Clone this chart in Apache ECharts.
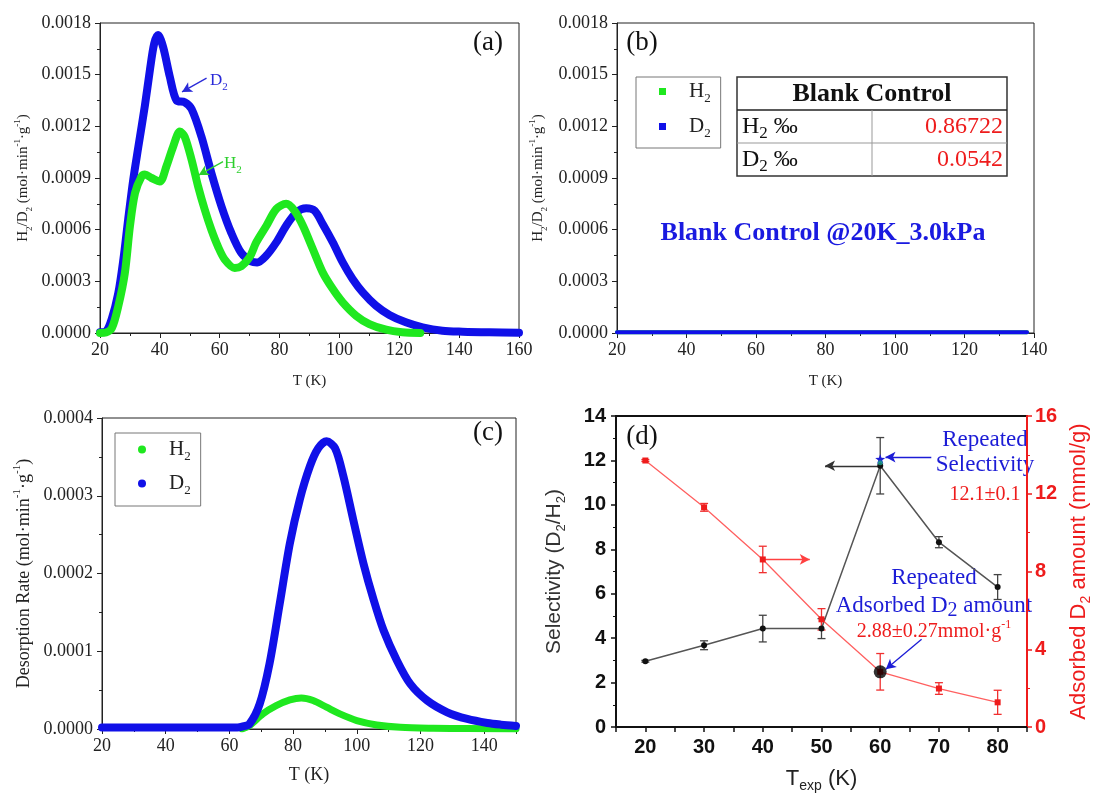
<!DOCTYPE html>
<html>
<head>
<meta charset="utf-8">
<title>H2 / D2 desorption</title>
<script src="https://cdn.jsdelivr.net/npm/echarts@6/dist/echarts.min.js"></script>
<style>
  html, body { margin: 0; padding: 0; background: #fff; }
  #chart { width: 1094px; height: 794px; }
</style>
</head>
<body>
<div id="chart"></div>
<script>
var SERIF = "'Liberation Serif', 'Times New Roman', serif";
var SANS = "'Liberation Sans', Arial, sans-serif";
var GREEN = '#1fe81f', BLUE = '#1010e8', RED = '#ee1c1c', NOTE_BLUE = '#1c1cd6';

// (a) desorption after co-adsorption
var tA_H2 = [20, 22, 24, 26.1, 28.3, 30, 31.7, 33.9, 35, 37.2, 40, 42.2, 44.4, 46.7, 48.3, 50.6, 52.8, 55, 57.2, 59.4, 61.7, 65, 67.2, 70, 72.2, 75.6, 78.9, 82.2, 85, 87.8, 91.1, 94.4, 97.8, 101.1, 105.6, 110, 115.6, 121, 127];
var rA_H2 = [0, 0.000003, 0.00003, 0.000155, 0.000348, 0.00062, 0.000813, 0.00091, 0.00092, 0.0009, 0.00088, 0.000968, 0.00108, 0.00117, 0.00114, 0.001006, 0.00085, 0.000716, 0.0006, 0.000503, 0.000426, 0.000377, 0.000387, 0.00044, 0.000526, 0.000623, 0.00072, 0.00075, 0.00071, 0.000623, 0.000488, 0.000352, 0.000255, 0.000178, 0.0001, 0.000052, 0.000019, 0.000004, 0];
var tA_D2 = [20, 22, 23.9, 26.1, 27.8, 29.4, 31.1, 32.8, 35, 36.7, 38.1, 39.4, 41.1, 43.3, 45.6, 48.3, 50.6, 53.9, 57.2, 60.6, 63.9, 67.2, 70.6, 72.5, 75.6, 78.9, 82.2, 85.6, 88.9, 91.7, 94.4, 97.8, 101.1, 104.4, 107.8, 112.2, 116.7, 122.2, 127.8, 134.4, 141.1, 150, 160];
var rA_D2 = [0.000005, 0.00001, 0.00008, 0.00023, 0.000426, 0.000658, 0.00089, 0.00108, 0.00132, 0.00153, 0.00168, 0.00173, 0.00166, 0.00149, 0.00135, 0.00134, 0.0013, 0.00114, 0.00093, 0.000735, 0.00058, 0.000465, 0.000415, 0.00041, 0.00045, 0.000526, 0.000623, 0.0007, 0.000724, 0.00071, 0.000633, 0.000526, 0.00041, 0.000314, 0.000236, 0.000159, 0.000105, 0.000062, 0.000033, 0.0000135, 0.0000077, 0.000004, 0.000002];

// (b) blank control
var tB = [20, 138];
var rB_H2 = [0.000005, 0.000005];
var rB_D2 = [0.000005, 0.000005];
var blankRows = ['H', 'D'];
var blankValues = ['0.86722', '0.0542'];

// (c) desorption rate
var tC_H2 = [64, 66.3, 70.5, 74.7, 79, 82.6, 86.3, 90.5, 94.7, 100, 106.3, 113.7, 124, 135, 150];
var rC_H2 = [0, 0.0000043, 0.0000194, 0.00003, 0.0000374, 0.00004, 0.0000366, 0.000028, 0.0000194, 0.0000108, 0.0000052, 0.0000022, 0.000001, 0.0000005, 0];
var tC_D2 = [20, 30, 40, 50, 56, 60, 62.5, 64, 66.3, 69.5, 72.6, 75.8, 79, 82.1, 85.3, 87.9, 90.5, 93.2, 95.8, 98.9, 102.1, 105.3, 108.4, 112.6, 116.8, 122.1, 128.4, 134.7, 141, 145.3, 150];
var rC_D2 = [0.000002, 0.000002, 0.000002, 0.000002, 0.000002, 0.000002, 0.000002, 0.000003, 0.0000065, 0.000032, 0.000084, 0.000161, 0.000239, 0.000295, 0.000338, 0.000361, 0.00037, 0.000361, 0.000325, 0.000269, 0.000213, 0.000166, 0.000127, 0.0000882, 0.000058, 0.0000366, 0.0000215, 0.0000129, 0.0000077, 0.0000056, 0.000004];

// (d) selectivity and adsorbed amount vs exposure temperature
var tExp = [20, 30, 40, 50, 60, 70, 80];
var selectivity = [2.96, 3.68, 4.43, 4.43, 11.76, 8.32, 6.3];
var selectivityErr = [0.04, 0.2, 0.6, 0.45, 1.27, 0.25, 0.56];
var adsorbed = [13.71, 11.3, 8.62, 5.54, 2.84, 1.98, 1.27];
var adsorbedErr = [0.05, 0.2, 0.68, 0.55, 0.94, 0.3, 0.62];
var repeatedSelectivity = [60, 12.06];
var repeatedMarker = [60, 11.9];
var repeatedAdsorbed = [60, 2.84];

function pairs(xs, ys) {
    return xs.map(function (x, i) { return [x, ys[i]]; });
}
function errPairs(xs, ys, es) {
    return xs.map(function (x, i) { return [x, ys[i] - es[i], ys[i] + es[i]]; });
}

function rich(size, color, family, subScale) {
    var sub = Math.round(size * (subScale || 0.62));
    return {
        n: { fontFamily: family, fontSize: size, color: color, fill: color, lineHeight: size + 6 },
        s: { fontFamily: family, fontSize: sub, color: color, fill: color, lineHeight: sub, verticalAlign: 'bottom' },
        u: { fontFamily: family, fontSize: sub, color: color, fill: color, lineHeight: sub, verticalAlign: 'top' },
        p: { width: 18 }
    };
}

var UNIT = '{n| (mol·min}{u|-1}{n|·g}{u|-1}{n|)}';

function serifAxis(extra) {
    var base = {
        type: 'value',
        axisLine: { show: true, lineStyle: { color: '#222', width: 1 } },
        axisTick: { show: true, length: 5, lineStyle: { color: '#222' } },
        minorTick: { show: true, splitNumber: 2, length: 3, lineStyle: { color: '#222' } },
        splitLine: { show: false },
        axisLabel: { fontFamily: SERIF, fontSize: 18, color: '#222', margin: 8 },
        nameLocation: 'middle'
    };
    for (var k in extra) base[k] = extra[k];
    return base;
}

function rateFmt(v) { return v.toFixed(4); }

function errorSeries(xi, yi, data, color) {
    return {
        type: 'custom', xAxisIndex: xi, yAxisIndex: yi, data: data, z: 4,
        encode: { x: 0, y: [1, 2] },
        renderItem: function (params, api) {
            var x = api.value(0);
            var hi = api.coord([x, api.value(2)]);
            var lo = api.coord([x, api.value(1)]);
            var cap = 4;
            var st = { stroke: color, lineWidth: 1.3 };
            return {
                type: 'group', children: [
                    { type: 'line', shape: { x1: hi[0], y1: hi[1], x2: lo[0], y2: lo[1] }, style: st },
                    { type: 'line', shape: { x1: hi[0] - cap, y1: hi[1], x2: hi[0] + cap, y2: hi[1] }, style: st },
                    { type: 'line', shape: { x1: lo[0] - cap, y1: lo[1], x2: lo[0] + cap, y2: lo[1] }, style: st }
                ]
            };
        }
    };
}

function arrowLine(color, list) {
    return {
        silent: true, animation: false,
        symbol: ['none', 'arrow'], symbolSize: [8, 10],
        label: { show: false },
        lineStyle: { type: 'solid', width: 1.3, color: color },
        data: list.map(function (a) { return [{ coord: a[0] }, { coord: a[1] }]; })
    };
}

function curve(name, xi, data, color, width, z) {
    return {
        name: name, type: 'line', xAxisIndex: xi, yAxisIndex: xi, data: data,
        showSymbol: false, smooth: 0.3, z: z || 2,
        itemStyle: { color: color },
        lineStyle: { color: color, width: width, cap: 'round', join: 'round' }
    };
}

function legendFmt(name) {
    return '{p|}{n|' + name.charAt(0) + '}{s|2}';
}

var chart = echarts.init(document.getElementById('chart'), null, { renderer: 'canvas' });

var tableEls = [
    { type: 'rect', shape: { x: 737, y: 77, width: 270, height: 99 }, style: { fill: '#fff', stroke: '#333', lineWidth: 1.5 } },
    { type: 'line', shape: { x1: 737, y1: 110, x2: 1007, y2: 110 }, style: { stroke: '#222', lineWidth: 1.5 } },
    { type: 'line', shape: { x1: 737, y1: 143, x2: 1007, y2: 143 }, style: { stroke: '#999', lineWidth: 1 } },
    { type: 'line', shape: { x1: 872, y1: 110, x2: 872, y2: 176 }, style: { stroke: '#999', lineWidth: 1 } },
    { type: 'text', x: 872, y: 94, style: { text: 'Blank Control', fontFamily: SERIF, fontSize: 26, fontWeight: 'bold', fill: '#111', align: 'center', verticalAlign: 'middle' } }
];
blankRows.forEach(function (el, i) {
    var y = 127 + i * 33;
    tableEls.push({ type: 'text', x: 742, y: y, style: {
        text: '{n|' + el + '}{s|2}{n| ‰}', rich: rich(24, '#111', SERIF, 0.7), align: 'left', verticalAlign: 'middle' } });
    tableEls.push({ type: 'text', x: 1003, y: y, style: {
        text: blankValues[i], fontFamily: SERIF, fontSize: 24, fill: RED, align: 'right', verticalAlign: 'middle' } });
});

var option = {
    animation: false,
    backgroundColor: '#fff',
    grid: [
        { left: 100, top: 23, width: 419, height: 310, show: true, borderColor: '#222', borderWidth: 1 },
        { left: 617, top: 23, width: 417, height: 310, show: true, borderColor: '#222', borderWidth: 1 },
        { left: 102, top: 418, width: 414, height: 311, show: true, borderColor: '#222', borderWidth: 1 },
        { left: 616, top: 416, width: 419, height: 312, show: true, borderColor: '#111', borderWidth: 2 }
    ],
    legend: [
        {
            data: ['H2 (b)', 'D2 (b)'], left: 636, top: 77, orient: 'vertical',
            icon: 'rect', itemWidth: 7, itemHeight: 7, itemGap: 11,
            padding: [4, 10, 8, 23], borderColor: '#777', borderWidth: 1,
            formatter: legendFmt, textStyle: { rich: rich(21, '#222', SERIF) }
        },
        {
            data: ['H2 (c)', 'D2 (c)'], left: 115, top: 433, orient: 'vertical',
            icon: 'circle', itemWidth: 8, itemHeight: 8, itemGap: 10,
            padding: [6, 10, 9, 23], borderColor: '#777', borderWidth: 1,
            formatter: legendFmt, textStyle: { rich: rich(21, '#222', SERIF) }
        }
    ],
    xAxis: [
        serifAxis({ gridIndex: 0, min: 20, max: 160, interval: 20, name: 'T (K)', nameGap: 41,
            nameTextStyle: { fontFamily: SERIF, fontSize: 15, color: '#222' } }),
        serifAxis({ gridIndex: 1, min: 20, max: 140, interval: 20, name: 'T (K)', nameGap: 41,
            nameTextStyle: { fontFamily: SERIF, fontSize: 15, color: '#222' } }),
        serifAxis({ gridIndex: 2, min: 20, max: 150, interval: 20, name: 'T (K)', nameGap: 37,
            axisLabel: { fontFamily: SERIF, fontSize: 18, color: '#222', margin: 8, showMaxLabel: false },
            nameTextStyle: { fontFamily: SERIF, fontSize: 18, color: '#222' } }),
        {
            type: 'value', gridIndex: 3, min: 15, max: 85, interval: 5,
            axisLine: { show: true, lineStyle: { color: '#111', width: 2 } },
            axisTick: { show: true, length: 5, lineStyle: { color: '#111', width: 1.5 } },
            splitLine: { show: false },
            axisLabel: {
                fontFamily: SANS, fontSize: 20, fontWeight: 'bold', color: '#111', margin: 10,
                formatter: function (v) { return v % 10 === 0 ? String(v) : ''; }
            },
            name: '{n|T}{s|exp}{n| (K)}', nameLocation: 'middle', nameGap: 38,
            nameTextStyle: { rich: rich(22, '#222', SANS) }
        }
    ],
    yAxis: [
        serifAxis({ gridIndex: 0, min: 0, max: 0.0018, interval: 0.0003,
            axisLabel: { fontFamily: SERIF, fontSize: 18, color: '#222', margin: 9, formatter: rateFmt },
            name: '{n|H}{s|2}{n|/D}{s|2}' + UNIT, nameGap: 66, nameTextStyle: { rich: rich(15, '#222', SERIF) } }),
        serifAxis({ gridIndex: 1, min: 0, max: 0.0018, interval: 0.0003,
            axisLabel: { fontFamily: SERIF, fontSize: 18, color: '#222', margin: 9, formatter: rateFmt },
            name: '{n|H}{s|2}{n|/D}{s|2}' + UNIT, nameGap: 68, nameTextStyle: { rich: rich(15, '#222', SERIF) } }),
        serifAxis({ gridIndex: 2, min: 0, max: 0.0004, interval: 0.0001,
            axisLabel: { fontFamily: SERIF, fontSize: 18, color: '#222', margin: 9, formatter: rateFmt },
            name: '{n|Desorption Rate}' + UNIT, nameGap: 66, nameTextStyle: { rich: rich(18, '#222', SERIF) } }),
        {
            type: 'value', gridIndex: 3, min: 0, max: 14, interval: 2,
            axisLine: { show: true, lineStyle: { color: '#111', width: 2 } },
            axisTick: { show: true, length: 5, lineStyle: { color: '#111', width: 1.5 } },
            minorTick: { show: true, splitNumber: 2, length: 3, lineStyle: { color: '#111' } },
            splitLine: { show: false },
            axisLabel: { fontFamily: SANS, fontSize: 20, fontWeight: 'bold', color: '#111', margin: 10 },
            name: '{n|Selectivity (D}{s|2}{n|/H}{s|2}{n|)}', nameLocation: 'middle', nameGap: 48,
            nameTextStyle: { rich: rich(21, '#333', SANS) }
        },
        {
            type: 'value', gridIndex: 3, position: 'right', min: 0, max: 16, interval: 4,
            axisLine: { show: true, lineStyle: { color: RED, width: 2 } },
            axisTick: { show: true, length: 5, lineStyle: { color: RED, width: 1.5 } },
            minorTick: { show: true, splitNumber: 2, length: 3, lineStyle: { color: RED } },
            splitLine: { show: false },
            axisLabel: { fontFamily: SANS, fontSize: 20, fontWeight: 'bold', color: RED, margin: 8 },
            name: '{n|Adsorbed D}{s|2}{n| amount (mmol/g)}', nameLocation: 'middle', nameGap: 38,
            nameTextStyle: { rich: rich(22, RED, SANS) }
        }
    ],
    series: [
        // (a)
        (function () {
            var s = curve('D2 (a)', 0, pairs(tA_D2, rA_D2), BLUE, 8, 2);
            s.markLine = arrowLine('#2a2ad8', [[[55.6, 0.00148], [47.4, 0.0014]]]);
            return s;
        })(),
        (function () {
            var s = curve('H2 (a)', 0, pairs(tA_H2, rA_H2), GREEN, 8, 3);
            s.markLine = arrowLine('#2ccf2c', [[[61.1, 0.000995], [53, 0.000917]]]);
            return s;
        })(),
        // (b)
        curve('H2 (b)', 1, pairs(tB, rB_H2), GREEN, 4, 2),
        curve('D2 (b)', 1, pairs(tB, rB_D2), BLUE, 4, 3),
        // (c)
        curve('H2 (c)', 2, pairs(tC_H2, rC_H2), GREEN, 7, 2),
        curve('D2 (c)', 2, pairs(tC_D2, rC_D2), BLUE, 8, 3),
        // (d)
        {
            name: 'Selectivity', type: 'line', xAxisIndex: 3, yAxisIndex: 3,
            data: pairs(tExp, selectivity), symbol: 'circle', symbolSize: 6, z: 5,
            itemStyle: { color: '#111' }, lineStyle: { color: '#555', width: 1.5 },
            markLine: arrowLine('#333', [[[60, 11.76], [50.6, 11.76]]])
        },
        errorSeries(3, 3, errPairs(tExp, selectivity, selectivityErr), '#444'),
        {
            name: 'Adsorbed', type: 'line', xAxisIndex: 3, yAxisIndex: 4,
            data: pairs(tExp, adsorbed), symbol: 'rect', symbolSize: 6, z: 5,
            itemStyle: { color: RED }, lineStyle: { color: '#ff6060', width: 1.3 },
            markLine: arrowLine('#ff4040', [[[40, 8.62], [48, 8.62]]])
        },
        errorSeries(3, 4, errPairs(tExp, adsorbed, adsorbedErr), '#f03030'),
        {
            name: 'Repeated', type: 'scatter', xAxisIndex: 3, yAxisIndex: 3, z: 7,
            data: [repeatedMarker], symbol: 'circle', symbolSize: 5,
            itemStyle: { color: '#1aa38a' }
        },
        {
            name: 'Repeated selectivity', type: 'scatter', xAxisIndex: 3, yAxisIndex: 3, z: 8,
            data: [repeatedSelectivity], symbol: 'pin', symbolSize: 0,
            itemStyle: { color: NOTE_BLUE },
            markPoint: {
                silent: true, animation: false, symbol: 'path://M0,-10 L2.4,-3.2 L9.5,-3.1 L3.8,1.2 L5.9,8.1 L0,4 L-5.9,8.1 L-3.8,1.2 L-9.5,-3.1 L-2.4,-3.2 Z',
                symbolSize: 10, itemStyle: { color: NOTE_BLUE }, label: { show: false },
                data: [{ coord: repeatedSelectivity }]
            },
            markLine: arrowLine(NOTE_BLUE, [
                [[68.7, 12.15], [60.9, 12.15]],
                [[67.05, 3.95], [60.95, 2.6]]
            ])
        },
        {
            name: 'Repeated amount', type: 'scatter', xAxisIndex: 3, yAxisIndex: 4, z: 8,
            data: [repeatedAdsorbed], symbol: 'circle', symbolSize: 13,
            itemStyle: { color: '#000' }
        }
    ],
    graphic: [
        { type: 'text', x: 488, y: 43, style: { text: '(a)', fontFamily: SERIF, fontSize: 27, fill: '#111', align: 'center', verticalAlign: 'middle' } },
        { type: 'text', x: 642, y: 43, style: { text: '(b)', fontFamily: SERIF, fontSize: 27, fill: '#111', align: 'center', verticalAlign: 'middle' } },
        { type: 'text', x: 488, y: 433, style: { text: '(c)', fontFamily: SERIF, fontSize: 27, fill: '#111', align: 'center', verticalAlign: 'middle' } },
        { type: 'text', x: 642, y: 437, style: { text: '(d)', fontFamily: SERIF, fontSize: 27, fill: '#111', align: 'center', verticalAlign: 'middle' } },
        { type: 'text', x: 210, y: 81, style: { text: '{n|D}{s|2}', rich: rich(17, '#2a2ad8', SERIF), align: 'left', verticalAlign: 'middle' } },
        { type: 'text', x: 224, y: 164, style: { text: '{n|H}{s|2}', rich: rich(17, '#2ccf2c', SERIF), align: 'left', verticalAlign: 'middle' } },
        { type: 'text', x: 823, y: 233, style: { text: 'Blank Control @20K_3.0kPa', fontFamily: SERIF, fontSize: 26, fontWeight: 'bold', fill: '#1a1ae0', align: 'center', verticalAlign: 'middle' } },
        { type: 'group', children: tableEls },
        { type: 'text', x: 985, y: 440, style: { text: 'Repeated', fontFamily: SERIF, fontSize: 23, fill: NOTE_BLUE, align: 'center', verticalAlign: 'middle' } },
        { type: 'text', x: 985, y: 465, style: { text: 'Selectivity', fontFamily: SERIF, fontSize: 23, fill: NOTE_BLUE, align: 'center', verticalAlign: 'middle' } },
        { type: 'text', x: 985, y: 495, style: { text: '12.1±0.1', fontFamily: SERIF, fontSize: 20, fill: RED, align: 'center', verticalAlign: 'middle' } },
        { type: 'text', x: 934, y: 578, style: { text: 'Repeated', fontFamily: SERIF, fontSize: 23, fill: NOTE_BLUE, align: 'center', verticalAlign: 'middle' } },
        { type: 'text', x: 934, y: 606, style: { text: '{n|Adsorbed D}{s|2}{n| amount}', rich: rich(23, NOTE_BLUE, SERIF, 0.87), align: 'center', verticalAlign: 'middle' } },
        { type: 'text', x: 934, y: 632, style: { text: '{n|2.88±0.27mmol·g}{u|-1}', rich: rich(20, RED, SERIF), align: 'center', verticalAlign: 'middle' } }
    ]
};

chart.setOption(option);
</script>
</body>
</html>
